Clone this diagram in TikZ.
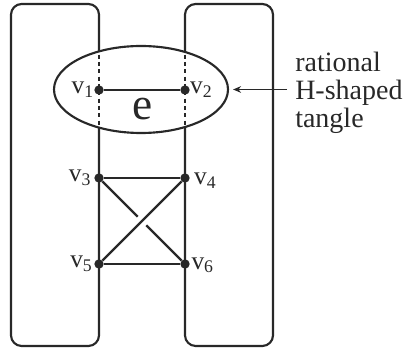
\documentclass[tikz,border=0pt]{standalone}
\usepackage{fontspec}
\setmainfont{Liberation Serif}
\usetikzlibrary{arrows.meta, positioning, shapes.geometric, calc}
\definecolor{tangleink}{RGB}{40, 40, 40}

\begin{document}
\begin{tikzpicture}[
      x=0.75pt, y=-0.75pt,
      strand/.style={draw=tangleink, line width=1.6pt, rounded corners=8pt},
      ring/.style={ellipse, draw=tangleink, fill=white, line width=1.6pt, minimum width=130.5pt, minimum height=65.25pt, inner sep=0pt},
      vert/.style={circle, fill=tangleink, inner sep=0pt, minimum size=7pt},
      vlabel/.style={font=\fontsize{19}{19}\selectfont, text=tangleink, inner sep=1pt},
      link/.style={draw=tangleink, line width=1.6pt},
      hidden/.style={draw=tangleink, line width=0.9pt, dash pattern=on 3pt off 2.5pt},
      note/.style={font=\fontsize{21}{21}\selectfont, text=tangleink, align=left, inner xsep=6pt, inner ysep=0pt},
      pointer/.style={-{Stealth[length=6pt, width=5pt]}, draw=tangleink, line width=0.7pt, shorten >=3pt}
    ]
      \useasboundingbox (0,0) rectangle (403,348);

      % the two strands of the H
      \draw[strand] (11,4) rectangle (99,346);
      \draw[strand] (185,4) rectangle (273,346);

      \node[ring] (T) at (141,89.5) {};
      \begin{scope}
        \clip (141,89.5) ellipse [x radius=86, y radius=42.5];
        \draw[hidden] (99,40) -- (99,140);
        \draw[hidden] (185,40) -- (185,140);
      \end{scope}

      \node[vert] (v1) at (99,90) {};
      \node[vert] (v2) at (185,90) {};
      \node[vert] (v3) at (99,178) {};
      \node[vert] (v4) at (185,178) {};
      \node[vert] (v5) at (99,264) {};
      \node[vert] (v6) at (185,264) {};

      \draw[link] (v1) -- (v2);
      \draw[link] (v3) -- (v4);
      \draw[link] (v5) -- (v6);
      \draw[link] (v3) -- (v6);
      \draw[white, line width=9pt] ($(v5)!0.42!(v4)$) -- ($(v5)!0.58!(v4)$);
      \draw[link] (v5) -- (v4);

      \node[vlabel, left=-1pt of v1] (l1) {v\textsubscript{1}};
      \node[vlabel, right=-1pt of v2] (l2) {v\textsubscript{2}};
      \node[vlabel, left=1pt of v3] (l3) {v\textsubscript{3}};
      \node[vlabel, right=2pt of v4, yshift=-2pt] (l4) {v\textsubscript{4}};
      \node[vlabel, left=0pt of v5] (l5) {v\textsubscript{5}};
      \node[vlabel, right=0pt of v6, yshift=-1pt] (l6) {v\textsubscript{6}};

      \node[font=\fontsize{34}{34}\selectfont, text=tangleink, inner sep=0pt] (e) at (143,109) {e};

      \node[note, anchor=west] (N) at (287,93) {rational\\H-shaped\\tangle};
      \draw[pointer] (N.west |- T.east) -- (T.east);
    \end{tikzpicture}
\end{document}
